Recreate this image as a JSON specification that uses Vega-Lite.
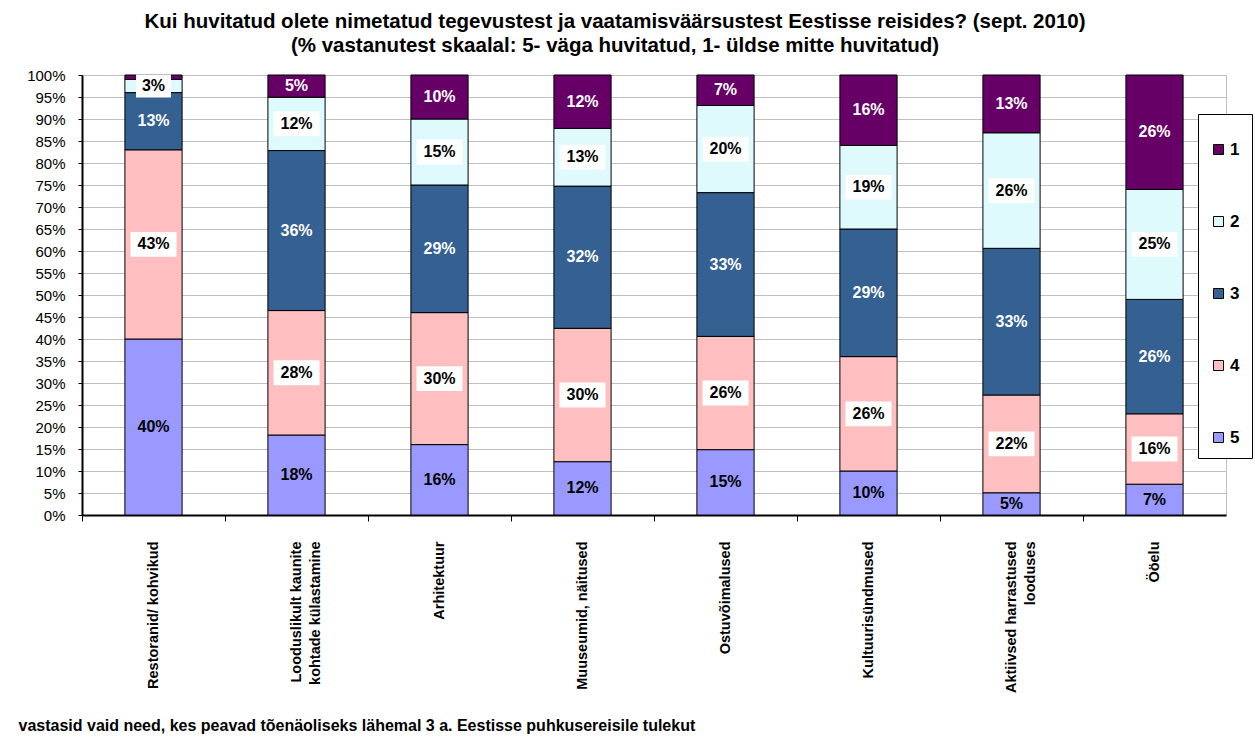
{
  "$schema": "https://vega.github.io/schema/vega-lite/v6.json",
  "width": 1144,
  "height": 440,
  "autosize": {"type": "none"},
  "padding": {"left": 82, "top": 75, "right": 29, "bottom": 225},
  "background": "white",
  "title": {
    "text": [
      "Kui huvitatud olete nimetatud tegevustest ja vaatamisväärsustest Eestisse reisides? (sept. 2010)",
      "(% vastanutest skaalal: 5- väga huvitatud, 1- üldse mitte huvitatud)"
    ],
    "font": "Liberation Sans",
    "fontSize": 20.5,
    "fontWeight": "bold",
    "color": "black",
    "anchor": "middle",
    "dx": -39,
    "offset": 9,
    "lineHeight": 24
  },
  "config": {
    "view": {"stroke": "#c0c0c0"},
    "font": "Liberation Sans"
  },
  "data": {
    "values": [
      {"cat": "Restoranid/ kohvikud", "lvl": "5", "v": 40, "lbl": "40%"},
      {"cat": "Restoranid/ kohvikud", "lvl": "4", "v": 43, "lbl": "43%"},
      {"cat": "Restoranid/ kohvikud", "lvl": "3", "v": 13, "lbl": "13%"},
      {"cat": "Restoranid/ kohvikud", "lvl": "2", "v": 3, "lbl": "3%"},
      {"cat": "Restoranid/ kohvikud", "lvl": "1", "v": 1, "lbl": "1%"},
      {"cat": "Looduslikult kaunite|kohtade külastamine", "lvl": "5", "v": 18, "lbl": "18%"},
      {"cat": "Looduslikult kaunite|kohtade külastamine", "lvl": "4", "v": 28, "lbl": "28%"},
      {"cat": "Looduslikult kaunite|kohtade külastamine", "lvl": "3", "v": 36, "lbl": "36%"},
      {"cat": "Looduslikult kaunite|kohtade külastamine", "lvl": "2", "v": 12, "lbl": "12%"},
      {"cat": "Looduslikult kaunite|kohtade külastamine", "lvl": "1", "v": 5, "lbl": "5%"},
      {"cat": "Arhitektuur", "lvl": "5", "v": 16, "lbl": "16%"},
      {"cat": "Arhitektuur", "lvl": "4", "v": 30, "lbl": "30%"},
      {"cat": "Arhitektuur", "lvl": "3", "v": 29, "lbl": "29%"},
      {"cat": "Arhitektuur", "lvl": "2", "v": 15, "lbl": "15%"},
      {"cat": "Arhitektuur", "lvl": "1", "v": 10, "lbl": "10%"},
      {"cat": "Muuseumid, näitused", "lvl": "5", "v": 12, "lbl": "12%"},
      {"cat": "Muuseumid, näitused", "lvl": "4", "v": 30, "lbl": "30%"},
      {"cat": "Muuseumid, näitused", "lvl": "3", "v": 32, "lbl": "32%"},
      {"cat": "Muuseumid, näitused", "lvl": "2", "v": 13, "lbl": "13%"},
      {"cat": "Muuseumid, näitused", "lvl": "1", "v": 12, "lbl": "12%"},
      {"cat": "Ostuvõimalused", "lvl": "5", "v": 15, "lbl": "15%"},
      {"cat": "Ostuvõimalused", "lvl": "4", "v": 26, "lbl": "26%"},
      {"cat": "Ostuvõimalused", "lvl": "3", "v": 33, "lbl": "33%"},
      {"cat": "Ostuvõimalused", "lvl": "2", "v": 20, "lbl": "20%"},
      {"cat": "Ostuvõimalused", "lvl": "1", "v": 7, "lbl": "7%"},
      {"cat": "Kultuurisündmused", "lvl": "5", "v": 10, "lbl": "10%"},
      {"cat": "Kultuurisündmused", "lvl": "4", "v": 26, "lbl": "26%"},
      {"cat": "Kultuurisündmused", "lvl": "3", "v": 29, "lbl": "29%"},
      {"cat": "Kultuurisündmused", "lvl": "2", "v": 19, "lbl": "19%"},
      {"cat": "Kultuurisündmused", "lvl": "1", "v": 16, "lbl": "16%"},
      {"cat": "Aktiivsed harrastused|looduses", "lvl": "5", "v": 5, "lbl": "5%"},
      {"cat": "Aktiivsed harrastused|looduses", "lvl": "4", "v": 22, "lbl": "22%"},
      {"cat": "Aktiivsed harrastused|looduses", "lvl": "3", "v": 33, "lbl": "33%"},
      {"cat": "Aktiivsed harrastused|looduses", "lvl": "2", "v": 26, "lbl": "26%"},
      {"cat": "Aktiivsed harrastused|looduses", "lvl": "1", "v": 13, "lbl": "13%"},
      {"cat": "Ööelu", "lvl": "5", "v": 7, "lbl": "7%"},
      {"cat": "Ööelu", "lvl": "4", "v": 16, "lbl": "16%"},
      {"cat": "Ööelu", "lvl": "3", "v": 26, "lbl": "26%"},
      {"cat": "Ööelu", "lvl": "2", "v": 25, "lbl": "25%"},
      {"cat": "Ööelu", "lvl": "1", "v": 26, "lbl": "26%"}
    ]
  },
  "encoding": {
    "x": {
      "field": "cat", "type": "nominal", "sort": null,
      "scale": {"paddingInner": 0.6, "paddingOuter": 0.3},
      "axis": {
        "title": "vastasid vaid need, kes peavad tõenäoliseks lähemal 3 a. Eestisse puhkusereisile tulekut",
        "titleFont": "Liberation Sans", "titleFontSize": 16, "titleFontWeight": "bold", "titleColor": "black",
        "titleAnchor": "start", "titleAlign": "left", "titleX": -64, "titleY": 210, "titleBaseline": "middle",
        "labelExpr": "split(datum.label, '|')",
        "labelAngle": 270, "labelAlign": "right", "labelBaseline": "middle",
        "labelFont": "Liberation Sans", "labelFontSize": 14.5, "labelFontWeight": "bold", "labelColor": "black",
        "labelPadding": 20, "labelLineHeight": 19, "labelLimit": 400,
        "tickSize": 6, "tickColor": "black", "tickOffset": -71.5, "labelOffset": 71.5,
        "domainColor": "black", "domainWidth": 2, "grid": false
      }
    },
    "order": {"field": "lvl", "sort": "descending"}
  },
  "layer": [
    {
      "mark": {"type": "bar", "stroke": "black", "strokeWidth": 1, "opacity": 1},
      "encoding": {
        "y": {
          "field": "v", "type": "quantitative", "stack": "normalize",
          "scale": {"domain": [0, 1]},
          "axis": {
            "title": null,
            "values": [0, 0.05, 0.1, 0.15, 0.2, 0.25, 0.3, 0.35, 0.4, 0.45, 0.5, 0.55, 0.6, 0.65, 0.7, 0.75, 0.8, 0.85, 0.9, 0.95, 1],
            "format": ".0%", "labelOverlap": false,
            "labelFont": "Liberation Sans", "labelFontSize": 15, "labelColor": "black", "labelPadding": 13,
            "tickSize": 4, "tickColor": "black",
            "domainColor": "black", "domainWidth": 2,
            "grid": true, "gridColor": "#c0c0c0", "gridWidth": 1
          }
        },
        "color": {
          "field": "lvl", "type": "nominal",
          "scale": {"domain": ["1", "2", "3", "4", "5"], "range": ["#660066", "#DFFAFD", "#346092", "#FFBEC0", "#9999FF"]},
          "legend": {
            "orient": "none", "legendX": 1116, "legendY": 39,
            "title": " ", "titleFontSize": 10, "titlePadding": 5,
            "symbolType": "square", "symbolSize": 100, "symbolStrokeColor": "black", "symbolStrokeWidth": 1,
            "labelFont": "Liberation Sans", "labelFontSize": 17, "labelFontWeight": "bold", "labelColor": "black",
            "labelOffset": 3, "rowPadding": 54,
            "strokeColor": "black", "fillColor": "white", "padding": 12
          }
        }
      }
    },
    {
      "mark": {"type": "point", "filled": true, "color": "white", "strokeWidth": 0, "size": 2116},
      "encoding": {
        "y": {
          "field": "v", "type": "quantitative", "stack": "normalize", "bandPosition": 0.5,
          "scale": {"domain": [0, 1]},
          "axis": {
            "title": null,
            "values": [0, 0.05, 0.1, 0.15, 0.2, 0.25, 0.3, 0.35, 0.4, 0.45, 0.5, 0.55, 0.6, 0.65, 0.7, 0.75, 0.8, 0.85, 0.9, 0.95, 1],
            "format": ".0%", "labelOverlap": false,
            "labelFont": "Liberation Sans", "labelFontSize": 15, "labelColor": "black", "labelPadding": 13,
            "tickSize": 4, "tickColor": "black",
            "domainColor": "black", "domainWidth": 2,
            "grid": true, "gridColor": "#c0c0c0", "gridWidth": 1
          }
        },
        "detail": {"field": "lvl"},
        "opacity": {"condition": {"test": "datum.lvl == '2' || datum.lvl == '4'", "value": 1}, "value": 0},
        "shape": {
          "condition": {"test": "datum.v < 10", "value": "M-0.76,-0.5L0.76,-0.5L0.76,0.5L-0.76,0.5Z"},
          "value": "M-1,-0.54L1,-0.54L1,0.54L-1,0.54Z"
        }
      }
    },
    {
      "mark": {"type": "text", "font": "Liberation Sans", "fontSize": 16, "fontWeight": "bold", "baseline": "middle"},
      "encoding": {
        "y": {
          "field": "v", "type": "quantitative", "stack": "normalize", "bandPosition": 0.5,
          "scale": {"domain": [0, 1]},
          "axis": {
            "title": null,
            "values": [0, 0.05, 0.1, 0.15, 0.2, 0.25, 0.3, 0.35, 0.4, 0.45, 0.5, 0.55, 0.6, 0.65, 0.7, 0.75, 0.8, 0.85, 0.9, 0.95, 1],
            "format": ".0%", "labelOverlap": false,
            "labelFont": "Liberation Sans", "labelFontSize": 15, "labelColor": "black", "labelPadding": 13,
            "tickSize": 4, "tickColor": "black",
            "domainColor": "black", "domainWidth": 2,
            "grid": true, "gridColor": "#c0c0c0", "gridWidth": 1
          }
        },
        "detail": {"field": "lvl"},
        "text": {"condition": {"test": "datum.v < 2", "value": ""}, "field": "lbl"},
        "color": {"condition": {"test": "datum.lvl == '1' || datum.lvl == '3'", "value": "white"}, "value": "black"}
      }
    }
  ]
}
